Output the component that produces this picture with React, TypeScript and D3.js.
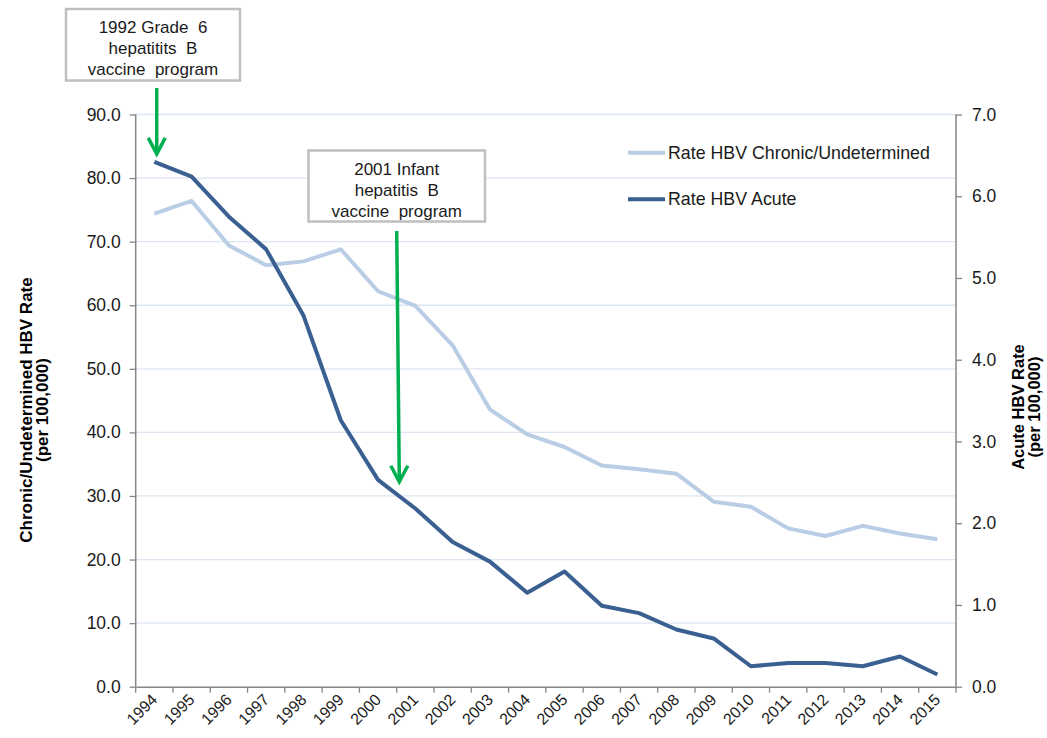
import React, { useEffect, useRef } from "react";
import * as d3 from "d3";

const years = [
  "1994", "1995", "1996", "1997", "1998", "1999", "2000", "2001", "2002", "2003", "2004",
  "2005", "2006", "2007", "2008", "2009", "2010", "2011", "2012", "2013", "2014", "2015",
];
// left axis (per 100,000)
const chronicRate = [
  74.4, 76.4, 69.4, 66.3, 66.9, 68.8, 62.2, 59.9, 53.7, 43.6, 39.7,
  37.7, 34.8, 34.2, 33.5, 29.1, 28.3, 24.9, 23.7, 25.3, 24.1, 23.2,
];
// right axis (per 100,000)
const acuteRate = [
  6.42, 6.24, 5.75, 5.35, 4.54, 3.26, 2.53, 2.18, 1.77, 1.53, 1.15,
  1.41, 0.99, 0.9, 0.7, 0.59, 0.25, 0.29, 0.29, 0.25, 0.37, 0.15,
];
const leftTicks = [0, 10, 20, 30, 40, 50, 60, 70, 80, 90];
const rightTicks = [0, 1, 2, 3, 4, 5, 6, 7];
const seriesNames = ["Rate HBV Chronic/Undetermined", "Rate HBV Acute"];
const notes = [
  { lines: ["1992 Grade  6", "hepatitits  B", "vaccine  program"], year: "1994" },
  { lines: ["2001 Infant", "hepatitis  B", "vaccine  program"], year: "2001" },
];

const FONT = "'Liberation Sans', Arial, sans-serif";
const LIGHT = "#b9cde5";
const DARK = "#3a6092";
const GREEN = "#00b050";

const HbvChart = () => {
  const ref = useRef<SVGSVGElement | null>(null);

  useEffect(() => {
    const svg = d3.select(ref.current);
    svg.selectAll("*").remove();

    const W = 1047, H = 738;
    const left = 135.7, right = 956, top = 114.5, bottom = 686.7;

    const x = d3.scaleBand().domain(years).range([left, right]).padding(0);
    const xc = (y: string) => (x(y) as number) + x.bandwidth() / 2;
    const yL = d3.scaleLinear().domain([0, 90]).range([bottom, top]);
    const yR = d3.scaleLinear().domain([0, 7]).range([bottom, top]);

    svg.attr("width", W).attr("height", H).style("font-family", FONT);

    // gridlines
    svg.append("g")
      .selectAll("line")
      .data(leftTicks.filter((d) => d > 0))
      .enter()
      .append("line")
      .attr("x1", left).attr("x2", right)
      .attr("y1", (d) => yL(d)).attr("y2", (d) => yL(d))
      .attr("stroke", "#dce6f2").attr("stroke-width", 1.3);

    // left axis
    const gL = svg.append("g").attr("transform", `translate(${left},0)`);
    gL.call(
      d3.axisLeft(yL).tickValues(leftTicks).tickFormat((d) => (d as number).toFixed(1)).tickSize(6).tickPadding(9)
    );
    // right axis
    const gR = svg.append("g").attr("transform", `translate(${right},0)`);
    gR.call(
      d3.axisRight(yR).tickValues(rightTicks).tickFormat((d) => (d as number).toFixed(1)).tickSize(6).tickPadding(10)
    );
    // bottom axis
    const gB = svg.append("g").attr("transform", `translate(0,${bottom})`);
    gB.call(d3.axisBottom(x).tickSize(0).tickFormat(() => ""));
    gB.selectAll("line.bt")
      .data(years.concat(["end"]))
      .enter()
      .append("line")
      .attr("class", "bt")
      .attr("x1", (d, i) => left + i * x.bandwidth())
      .attr("x2", (d, i) => left + i * x.bandwidth())
      .attr("y1", 0).attr("y2", 6)
      .attr("stroke", "#868686").attr("stroke-width", 1.3);
    gB.selectAll("text.yl")
      .data(years)
      .enter()
      .append("text")
      .attr("class", "yl")
      .attr("transform", (d) => `translate(${xc(d) + 4},${14}) rotate(-45)`)
      .attr("text-anchor", "end")
      .attr("font-size", 16)
      .attr("fill", "#1a1a1a")
      .text((d) => d);

    [gL, gR, gB].forEach((g) => {
      g.selectAll(".domain").attr("stroke", "#868686").attr("stroke-width", 1.5);
      g.selectAll(".tick line").attr("stroke", "#868686").attr("stroke-width", 1.3);
      g.selectAll(".tick text").attr("font-size", 17.5).attr("fill", "#1a1a1a").style("font-family", FONT);
    });
    gL.select(".domain").attr("d", `M0,${top}V${bottom}`);
    gR.select(".domain").attr("d", `M0,${top}V${bottom}`);

    // lines
    const lineL = d3.line<number>().x((d, i) => xc(years[i])).y((d) => yL(d));
    const lineR = d3.line<number>().x((d, i) => xc(years[i])).y((d) => yR(d));
    svg.append("path").datum(chronicRate).attr("d", lineL)
      .attr("fill", "none").attr("stroke", LIGHT).attr("stroke-width", 4).attr("stroke-linejoin", "round");
    svg.append("path").datum(acuteRate).attr("d", lineR)
      .attr("fill", "none").attr("stroke", DARK).attr("stroke-width", 4).attr("stroke-linejoin", "round");

    // legend
    const leg = svg.append("g").attr("transform", "translate(628,152.7)");
    seriesNames.forEach((name, i) => {
      const r = leg.append("g").attr("transform", `translate(0,${i * 46.5})`);
      r.append("line").attr("x1", 0).attr("x2", 37).attr("y1", 0).attr("y2", 0)
        .attr("stroke", i === 0 ? LIGHT : DARK).attr("stroke-width", 4);
      r.append("text").attr("x", 40).attr("y", 6).attr("font-size", 17.8).attr("fill", "#1a1a1a").text(name);
    });

    // annotation boxes + arrows
    const boxes = [
      { x0: 66, y0: 9, x1: 240, y1: 80.5, tipX: xc(notes[0].year) + 2.4, fromY: 88, tipY: yR(acuteRate[0]) - 8 },
      { x0: 308.5, y0: 150.5, x1: 485, y1: 221.5, tipX: 399.3, fromY: 231, tipY: 481.7 },
    ];
    notes.forEach((n, i) => {
      const b = boxes[i];
      const g = svg.append("g");
      g.append("rect").attr("x", b.x0).attr("y", b.y0).attr("width", b.x1 - b.x0).attr("height", b.y1 - b.y0)
        .attr("fill", "#fff").attr("stroke", "#bfbfbf").attr("stroke-width", 2.5);
      const cx = (b.x0 + b.x1) / 2;
      g.selectAll("text").data(n.lines).enter().append("text")
        .attr("x", cx).attr("y", (d, j) => b.y0 + 24 + j * 21)
        .attr("text-anchor", "middle").attr("font-size", 17).attr("fill", "#1a1a1a")
        .style("white-space", "pre").text((d) => d);
      const fromX = i === 0 ? b.tipX : 396.7;
      g.append("line").attr("x1", fromX).attr("y1", b.fromY).attr("x2", b.tipX).attr("y2", b.tipY - 2)
        .attr("stroke", GREEN).attr("stroke-width", 3.5);
      g.append("path")
        .attr("d", `M${b.tipX - 8.5},${b.tipY - 16}L${b.tipX},${b.tipY}L${b.tipX + 8.5},${b.tipY - 16}`)
        .attr("fill", "none").attr("stroke", GREEN).attr("stroke-width", 3.5);
    });

    // axis titles
    const titleL = svg.append("text").attr("transform", "translate(0,410) rotate(-90)")
      .attr("text-anchor", "middle").attr("font-size", 17).attr("font-weight", "bold").attr("fill", "#000");
    titleL.append("tspan").attr("x", 0).attr("y", 32).text("Chronic/Undetermined HBV Rate");
    titleL.append("tspan").attr("x", 0).attr("y", 48).text("(per 100,000)");
    const titleR = svg.append("text").attr("transform", "translate(0,407) rotate(-90)")
      .attr("text-anchor", "middle").attr("font-size", 16.5).attr("font-weight", "bold").attr("fill", "#000");
    titleR.append("tspan").attr("x", 0).attr("y", 1024).text("Acute HBV Rate");
    titleR.append("tspan").attr("x", 0).attr("y", 1040).text("(per 100,000)");
  }, []);

  return <svg ref={ref} style={{ position: "absolute", left: 0, top: 0, background: "#fff" }}></svg>;
};

export default function App() {
  return <HbvChart />;
}
